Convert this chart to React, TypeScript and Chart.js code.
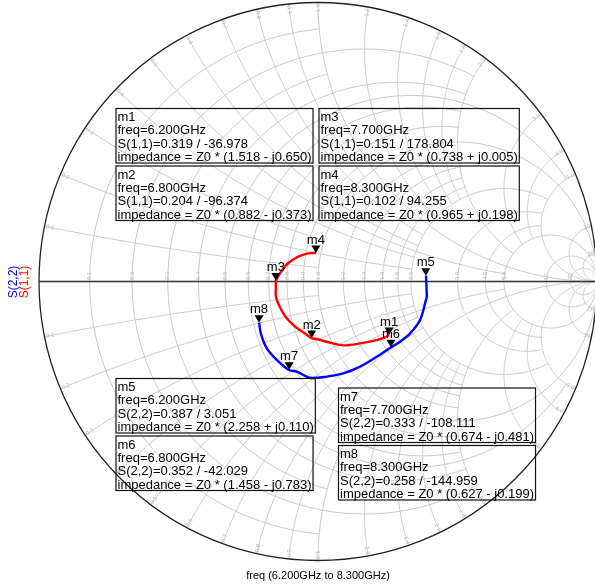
import React, { useEffect, useRef } from "react";
import { Chart, registerables } from "chart.js";

Chart.register(...registerables);

// ---- Smith chart grid values (normalized resistance / reactance) ----
const gridValues = [0.1, 0.2, 0.3, 0.4, 0.5, 0.6, 0.7, 0.8, 0.9, 1.0, 1.2, 1.4, 1.6, 1.8, 2.0, 3.0, 4.0, 5.0, 10, 20];
const gridLimits = [1, 2, 1, 2, 5, 2, 1, 2, 1, Infinity, 2, 2, 2, 2, 5, 5, 5, Infinity, Infinity, Infinity];
const gridLabels = ["0.1", "0.2", "0.3", "0.4", "0.5", "0.6", "0.7", "0.8", "0.9", "1.0", "1.2", "1.4", "1.6", "1.8", "2.0", "3.0", "4.0", "5.0", "10", "20"];

// ---- Traces: reflection coefficient (real / imag), freq 6.2 GHz -> 8.3 GHz ----
const s11Re = [0.255, 0.240, 0.210, 0.151, 0.091, 0.031, -0.005, -0.023, -0.047, -0.082, -0.115, -0.136, -0.151, -0.151, -0.151, -0.136, -0.110, -0.071, -0.035, -0.008];
const s11Im = [-0.192, -0.200, -0.210, -0.222, -0.229, -0.216, -0.206, -0.203, -0.186, -0.162, -0.128, -0.093, -0.054, -0.019, 0.003, 0.029, 0.063, 0.089, 0.101, 0.102];
const s22Re = [0.387, 0.390, 0.387, 0.366, 0.330, 0.294, 0.262, 0.210, 0.151, 0.091, 0.031, -0.029, -0.076, -0.104, -0.148, -0.184, -0.205, -0.211];
const s22Im = [0.021, -0.054, -0.066, -0.138, -0.186, -0.216, -0.236, -0.270, -0.305, -0.329, -0.341, -0.345, -0.323, -0.317, -0.281, -0.239, -0.186, -0.148];

// ---- Markers ----
const markerNames = ["m1", "m2", "m3", "m4", "m5", "m6", "m7", "m8"];
const markerParam = ["S(1,1)", "S(1,1)", "S(1,1)", "S(1,1)", "S(2,2)", "S(2,2)", "S(2,2)", "S(2,2)"];
const markerFreq = ["6.200GHz", "6.800GHz", "7.700GHz", "8.300GHz", "6.200GHz", "6.800GHz", "7.700GHz", "8.300GHz"];
const markerMag = [0.319, 0.204, 0.151, 0.102, 0.387, 0.352, 0.333, 0.258];
const markerAng = [-36.978, -96.374, 178.804, 94.255, 3.051, -42.029, -108.111, -144.959];
const markerZr = [1.518, 0.882, 0.738, 0.965, 2.258, 1.458, 0.674, 0.627];
const markerZi = [-0.650, -0.373, 0.005, 0.198, 0.110, -0.783, -0.481, -0.199];

// layout of the marker readout boxes (pixels)
const boxLeft = [116, 116, 319, 319, 116, 116, 338.5, 338.5];
const boxTop = [108.5, 166, 108.5, 166, 378.5, 436, 388, 445.5];

const axisTitle = "freq (6.200GHz to 8.300GHz)";

const FONT = '"Liberation Sans", Arial, Helvetica, sans-serif';
const GRID_COLOR = "#c2c2c2";
const LABEL_COLOR = "#b8b8b8";

function gammaOf(r: number, x: number): [number, number] {
  const nr = r - 1, ni = x, dr = r + 1, di = x;
  const den = dr * dr + di * di;
  return [(nr * dr + ni * di) / den, (ni * dr - nr * di) / den];
}

const smithPlugin = {
  id: "smith",
  beforeDatasetsDraw(chart: any) {
    const ctx = chart.ctx as CanvasRenderingContext2D;
    const sx = chart.scales.x, sy = chart.scales.y;
    const P = (gx: number, gy: number) => [sx.getPixelForValue(gx), sy.getPixelForValue(gy)];
    const N = 260;
    ctx.save();
    ctx.strokeStyle = GRID_COLOR;
    ctx.lineWidth = 0.9;
    gridValues.forEach((v, i) => {
      const L = gridLimits[i];
      const c = v / (1 + v), rho = 1 / (1 + v);
      let phiMax = 0;
      if (isFinite(L)) {
        const g = gammaOf(v, L);
        phiMax = Math.atan2(g[1], g[0] - c);
      }
      ctx.beginPath();
      for (let k = 0; k <= N; k++) {
        const phi = phiMax + (2 * Math.PI - 2 * phiMax) * (k / N);
        const [px, py] = P(c + rho * Math.cos(phi), rho * Math.sin(phi));
        if (k === 0) ctx.moveTo(px, py); else ctx.lineTo(px, py);
      }
      ctx.stroke();
      for (const s of [1, -1]) {
        const x = s * v;
        const g0 = gammaOf(0, x);
        const g1 = isFinite(L) ? gammaOf(L, x) : [1, 0];
        const cyv = 1 / x;
        const a0 = Math.atan2(g0[1] - cyv, g0[0] - 1);
        const a1 = Math.atan2(g1[1] - cyv, g1[0] - 1);
        let d = a1 - a0;
        while (d > Math.PI) d -= 2 * Math.PI;
        while (d < -Math.PI) d += 2 * Math.PI;
        const rad = 1 / Math.abs(x);
        ctx.beginPath();
        for (let k = 0; k <= N; k++) {
          const a = a0 + d * (k / N);
          const [px, py] = P(1 + rad * Math.cos(a), cyv + rad * Math.sin(a));
          if (k === 0) ctx.moveTo(px, py); else ctx.lineTo(px, py);
        }
        ctx.stroke();
      }
    });

    const [cxp, cyp] = P(0, 0);
    const Rp = sx.getPixelForValue(1) - cxp;
    ctx.fillStyle = LABEL_COLOR;
    ctx.font = `6px ${FONT}`;
    gridValues.forEach((v, i) => {
      const lab = gridLabels[i];
      const [rx] = P((v - 1) / (v + 1), 0);
      ctx.save();
      ctx.translate(rx, cyp - 1.5);
      ctx.rotate(-Math.PI / 2);
      ctx.textAlign = "left";
      ctx.textBaseline = "middle";
      ctx.fillText(lab, 0, 0);
      ctx.restore();
      for (const s of [1, -1]) {
        const g = gammaOf(0, s * v);
        const th = Math.atan2(g[1], g[0]);
        const px = cxp + (Rp - 1.5) * Math.cos(th);
        const py = cyp - (Rp - 1.5) * Math.sin(th);
        ctx.save();
        ctx.translate(px, py);
        if (Math.cos(th) >= 0) {
          ctx.rotate(-th);
          ctx.textAlign = "right";
        } else {
          ctx.rotate(-th + Math.PI);
          ctx.textAlign = "left";
        }
        ctx.textBaseline = "middle";
        ctx.fillText(lab, 0, 0);
        ctx.restore();
      }
    });

    ctx.strokeStyle = "#222";
    ctx.lineWidth = 1.3;
    ctx.beginPath();
    ctx.arc(cxp, cyp, Rp, 0, Math.PI * 2);
    ctx.stroke();
    ctx.strokeStyle = "#333";
    ctx.beginPath();
    const [lx] = P(-1, 0);
    const [rxx] = P(1, 0);
    ctx.moveTo(lx, cyp);
    ctx.lineTo(rxx, cyp);
    ctx.stroke();
    ctx.restore();
  },
  afterDatasetsDraw(chart: any) {
    const ctx = chart.ctx as CanvasRenderingContext2D;
    const sx = chart.scales.x, sy = chart.scales.y;
    ctx.save();
    markerNames.forEach((name, i) => {
      const a = (markerAng[i] * Math.PI) / 180;
      const px = sx.getPixelForValue(markerMag[i] * Math.cos(a));
      const py = sy.getPixelForValue(markerMag[i] * Math.sin(a));
      ctx.fillStyle = "#000";
      ctx.beginPath();
      ctx.moveTo(px, py);
      ctx.lineTo(px - 4.5, py - 7.5);
      ctx.lineTo(px + 4.5, py - 7.5);
      ctx.closePath();
      ctx.fill();
      ctx.font = `13px ${FONT}`;
      ctx.textAlign = "center";
      ctx.textBaseline = "alphabetic";
      ctx.fillText(name, px, py - 9.5);
    });
    ctx.font = `13px ${FONT}`;
    ctx.textAlign = "left";
    ctx.textBaseline = "alphabetic";
    markerNames.forEach((name, i) => {
      const zi = markerZi[i];
      const lines = [
        name,
        `freq=${markerFreq[i]}`,
        `${markerParam[i]}=${markerMag[i].toFixed(3)} / ${markerAng[i].toFixed(3)}`,
        `impedance = Z0 * (${markerZr[i].toFixed(3)} ${zi < 0 ? "-" : "+"} j${Math.abs(zi).toFixed(3)})`,
      ];
      const w = Math.max(...lines.map((l) => ctx.measureText(l).width)) + 3;
      const h = 54.5;
      const x0 = boxLeft[i], y0 = boxTop[i];
      ctx.strokeStyle = "#111";
      ctx.lineWidth = 1.2;
      ctx.strokeRect(x0, y0, w, h);
      ctx.fillStyle = "#000";
      lines.forEach((l, k) => ctx.fillText(l, x0 + 1.5, y0 + 12.5 + 13.4 * k));
    });
    ctx.font = `12px ${FONT}`;
    ctx.textAlign = "center";
    const cyp = sy.getPixelForValue(0);
    ctx.save();
    ctx.translate(17, cyp + 0.5);
    ctx.rotate(-Math.PI / 2);
    ctx.fillStyle = "#0000ff";
    ctx.fillText("S(2,2)", 0, 0);
    ctx.restore();
    ctx.save();
    ctx.translate(28, cyp + 0.5);
    ctx.rotate(-Math.PI / 2);
    ctx.fillStyle = "#ff0000";
    ctx.fillText("S(1,1)", 0, 0);
    ctx.restore();
    ctx.fillStyle = "#000";
    ctx.font = `11px ${FONT}`;
    ctx.textAlign = "center";
    ctx.fillText(axisTitle, sx.getPixelForValue(0), 578.5);
    ctx.restore();
  },
};

export default function App() {
  const ref = useRef<HTMLCanvasElement | null>(null);
  useEffect(() => {
    if (!ref.current) return;
    const s11 = s11Re.map((re, i) => ({ x: re, y: s11Im[i] }));
    const s22 = s22Re.map((re, i) => ({ x: re, y: s22Im[i] }));
    const chart = new Chart(ref.current, {
      type: "scatter",
      data: {
        datasets: [
          { label: "S(1,1)", data: s11, showLine: true, borderColor: "#ff0000", borderWidth: 2.4, pointRadius: 0, tension: 0.3, fill: false },
          { label: "S(2,2)", data: s22, showLine: true, borderColor: "#0000ff", borderWidth: 2.4, pointRadius: 0, tension: 0.3, fill: false },
        ],
      },
      options: {
        animation: false,
        responsive: false,
        layout: { padding: 0 },
        plugins: { legend: { display: false }, tooltip: { enabled: false } },
        scales: {
          x: { type: "linear", display: false, min: -318 / 279, max: 277 / 279 },
          y: { type: "linear", display: false, min: -303.5 / 279, max: 281.5 / 279 },
        },
      },
      plugins: [smithPlugin],
    });
    return () => chart.destroy();
  }, []);
  return (
    <div style={{ position: "absolute", left: 0, top: 0, width: 595, height: 585, background: "#fff" }}>
      <canvas ref={ref} width={595} height={585} style={{ display: "block", width: 595, height: 585 }} />
    </div>
  );
}
